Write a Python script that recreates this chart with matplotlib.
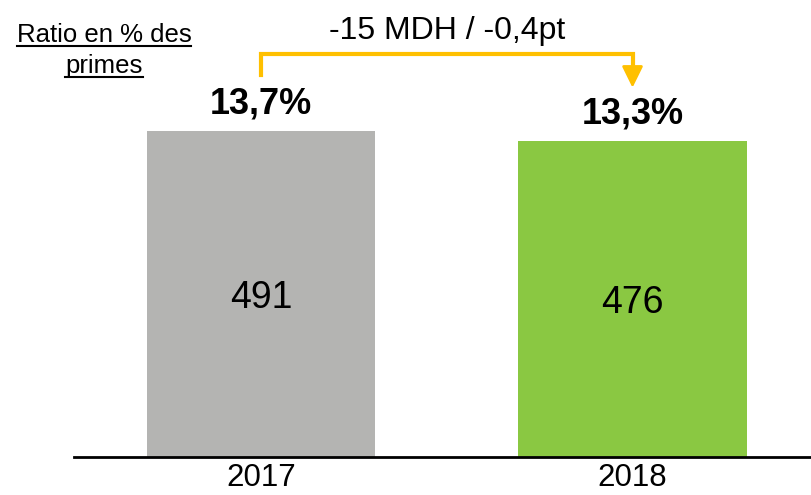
import matplotlib.pyplot as plt

plt.rcParams['font.family'] = ['Liberation Sans', 'DejaVu Sans']

annees = ['2017', '2018']
montants = [491, 476]
ratios = ['13,7%', '13,3%']
couleurs = ['#B4B4B2', '#8AC842']
variation = '-15 MDH / -0,4pt'

fig = plt.figure(figsize=(8.12, 4.95), dpi=100)
ax = fig.add_axes([74 / 812, 38 / 495, 738 / 812, 457 / 495])

x = [0, 1]
bars = ax.bar(x, montants, width=0.614, color=couleurs)

ax.set_xlim(-0.503, 1.483)
ax.set_ylim(0, 688)

for b, m, r in zip(bars, montants, ratios):
    cx = b.get_x() + b.get_width() / 2
    ax.text(cx, m / 2 - 6, str(m), ha='center', va='center', fontsize=27)
    ax.annotate(r, (cx, m), xytext=(0, 19), textcoords='offset points',
                ha='center', va='center', fontsize=26, fontweight='bold')

# fleche de variation
y_haut = 606
ax.plot([x[0], x[0], x[1], x[1]], [575, y_haut, y_haut, 575],
        color='#FFC000', lw=3, solid_joinstyle='miter', clip_on=False)
ax.annotate('', xy=(x[1], 556), xytext=(x[1], 578),
            arrowprops=dict(arrowstyle='-|>,head_width=0.32,head_length=0.65',
                            mutation_scale=20, color='#FFC000', lw=2,
                            shrinkA=0, shrinkB=0))
ax.text(0.5, 641, variation, ha='center', va='center', fontsize=23)

for s in ['top', 'right', 'left']:
    ax.spines[s].set_visible(False)
ax.spines['bottom'].set_linewidth(2)
ax.set_yticks([])
ax.set_xticks(x)
ax.set_xticklabels(annees, fontsize=22.5)
ax.tick_params(axis='x', length=0, pad=4)

# titre souligne
t1 = fig.text(104 / 812, 1 - 35 / 495, 'Ratio en % des', ha='center', va='center', fontsize=18.5)
t2 = fig.text(104 / 812, 1 - 66 / 495, 'primes', ha='center', va='center', fontsize=18.5)
fig.canvas.draw()
r = fig.canvas.get_renderer()
for t in [t1, t2]:
    bb = t.get_window_extent(r).transformed(fig.transFigure.inverted())
    y = bb.y0 + 0.002
    fig.add_artist(plt.Line2D([bb.x0, bb.x1], [y, y], color='black', lw=1.5,
                              transform=fig.transFigure))

fig.savefig('out.png', dpi=100)
